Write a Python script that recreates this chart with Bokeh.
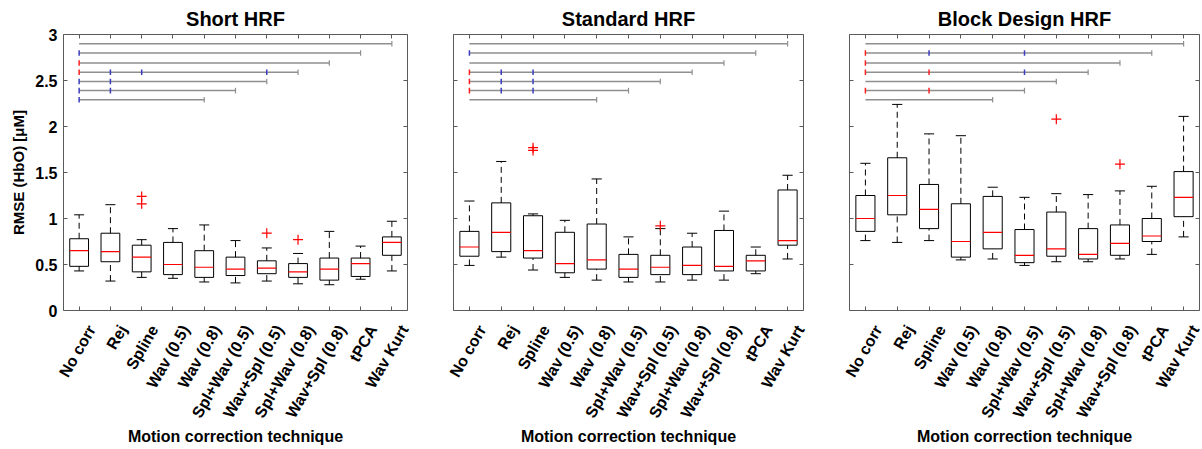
import math
from bokeh.plotting import figure
from bokeh.models import FixedTicker, LinearAxis, Range1d, CustomJSTickFormatter
from bokeh.layouts import row
from bokeh.embed import file_html
from bokeh.resources import INLINE

categories = ["No corr", "Rej", "Spline", "Wav (0.5)", "Wav (0.8)", "Spl+Wav (0.5)",
              "Wav+Spl (0.5)", "Spl+Wav (0.8)", "Wav+Spl (0.8)", "tPCA", "Wav Kurt"]
titles = ["Short HRF", "Standard HRF", "Block Design HRF"]
y_ticks = [0, 0.5, 1, 1.5, 2, 2.5, 3]

# ---- Short HRF
short_lo  = [0.43, 0.32, 0.36, 0.35, 0.31, 0.30, 0.32, 0.29, 0.28, 0.34, 0.43]
short_q1  = [0.48, 0.53, 0.42, 0.39, 0.36, 0.38, 0.40, 0.36, 0.33, 0.37, 0.60]
short_med = [0.65, 0.64, 0.58, 0.50, 0.47, 0.45, 0.46, 0.42, 0.45, 0.51, 0.74]
short_q3  = [0.78, 0.84, 0.71, 0.74, 0.65, 0.58, 0.54, 0.51, 0.57, 0.57, 0.80]
short_hi  = [1.04, 1.15, 0.77, 0.89, 0.93, 0.76, 0.68, 0.62, 0.86, 0.70, 0.97]
short_out_x = [3, 3, 7, 8]
short_out_y = [1.24, 1.16, 0.84, 0.77]

# ---- Standard HRF
std_lo  = [0.49, 0.58, 0.44, 0.36, 0.33, 0.31, 0.31, 0.33, 0.33, 0.40, 0.56]
std_q1  = [0.59, 0.64, 0.57, 0.41, 0.45, 0.36, 0.39, 0.39, 0.43, 0.43, 0.71]
std_med = [0.69, 0.85, 0.65, 0.51, 0.55, 0.45, 0.47, 0.49, 0.48, 0.54, 0.76]
std_q3  = [0.86, 1.17, 1.03, 0.85, 0.94, 0.61, 0.60, 0.69, 0.87, 0.60, 1.31]
std_hi  = [1.19, 1.62, 1.05, 0.98, 1.43, 0.80, 0.89, 0.84, 1.08, 0.69, 1.47]
std_out_x = [3, 3, 7]
std_out_y = [1.77, 1.74, 0.92]

# ---- Block Design HRF
blk_lo  = [0.76, 0.74, 0.76, 0.55, 0.56, 0.49, 0.53, 0.53, 0.56, 0.61, 0.80]
blk_q1  = [0.86, 1.04, 0.89, 0.58, 0.67, 0.52, 0.59, 0.56, 0.60, 0.75, 1.02]
blk_med = [1.00, 1.25, 1.10, 0.75, 0.85, 0.60, 0.67, 0.61, 0.73, 0.81, 1.23]
blk_q3  = [1.25, 1.66, 1.37, 1.16, 1.24, 0.88, 1.07, 0.89, 0.93, 1.00, 1.51]
blk_hi  = [1.60, 2.24, 1.92, 1.90, 1.34, 1.23, 1.27, 1.26, 1.30, 1.35, 2.11]
blk_out_x = [7, 9]
blk_out_y = [2.08, 1.59]

# ---- significance brackets (all start at "No corr")
bracket_y = [2.9, 2.8, 2.69, 2.59, 2.49, 2.39, 2.29]
bracket_end = [11, 10, 9, 8, 7, 6, 5]

short_red_row = [2, 3]
short_red_cat = [1, 1]
short_blue_row = [1, 3, 3, 3, 4, 4, 5, 5, 6]
short_blue_cat = [1, 2, 3, 7, 1, 2, 1, 2, 1]

std_red_row = [3, 4, 5]
std_red_cat = [1, 1, 1]
std_blue_row = [1, 3, 3, 4, 4, 5, 5]
std_blue_cat = [1, 2, 3, 2, 3, 2, 3]

blk_red_row = [1, 2, 3, 3, 5, 5]
blk_red_cat = [1, 1, 1, 3, 1, 3]
blk_blue_row = [1, 1, 3]
blk_blue_cat = [3, 6, 6]

FONT = "Liberation Sans"
FRAME_COL = "#5a5a5a"
BRACKET_COL = "#8f8f8f"
LABEL_SHIFT = 0.4   # rotated tick labels sit slightly right of their tick (MATLAB style)


def empty_fmt():
    return CustomJSTickFormatter(code="return ''")


def make_panel(idx, width, mb_left, mb_right, lo, q1, med, q3, hi, ox, oy,
               red_row, red_cat, blue_row, blue_cat, show_y):
    p = figure(width=width, height=449, x_range=Range1d(0.5, 11.5), y_range=Range1d(0, 3),
               output_backend="svg", toolbar_location=None,
               min_border_left=mb_left, min_border_right=mb_right,
               min_border_top=34, min_border_bottom=139)
    p.extra_x_ranges = {"lab": Range1d(0.5 - LABEL_SHIFT, 11.5 - LABEL_SHIFT)}
    p.title.text = titles[idx]
    p.title.align = "center"
    p.title.text_font = FONT
    p.title.text_font_size = "20px"
    p.title.text_font_style = "bold"
    p.title.text_color = "#000000"
    p.title.standoff = 9
    p.xgrid.visible = False
    p.ygrid.visible = False
    p.outline_line_color = FRAME_COL
    p.outline_line_width = 1
    p.background_fill_color = "white"
    p.border_fill_color = "white"

    # bottom axis: ticks only
    xa = p.xaxis[0]
    xa.ticker = FixedTicker(ticks=list(range(1, 12)))
    xa.formatter = empty_fmt()
    xa.major_label_standoff = 0
    xa.major_tick_in = 4
    xa.major_tick_out = 0
    xa.minor_tick_line_color = None
    xa.major_tick_line_color = FRAME_COL
    xa.axis_line_color = None

    # bottom label axis (category names, rotated)
    la = LinearAxis(x_range_name="lab", ticker=FixedTicker(ticks=list(range(1, 12))),
                    formatter=CustomJSTickFormatter(args=dict(labels=categories),
                                                    code="return labels[Math.round(tick)-1] || ''"),
                    major_tick_in=0, major_tick_out=0, major_tick_line_color=None,
                    minor_tick_line_color=None, axis_line_color=None)
    la.major_label_orientation = math.pi / 3
    la.major_label_text_font = FONT
    la.major_label_text_font_size = "16px"
    la.major_label_text_font_style = "bold"
    la.major_label_text_color = "#000000"
    la.major_label_standoff = 16
    la.axis_label = "Motion correction technique"
    la.axis_label_text_font = FONT
    la.axis_label_text_font_size = "16px"
    la.axis_label_text_font_style = "bold"
    la.axis_label_text_color = "#000000"
    la.axis_label_standoff = 0
    p.add_layout(la, "below")

    # left axis
    ya = p.yaxis[0]
    ya.ticker = FixedTicker(ticks=y_ticks)
    ya.major_tick_in = 4
    ya.major_tick_out = 0
    ya.minor_tick_line_color = None
    ya.major_tick_line_color = FRAME_COL
    ya.axis_line_color = None
    if show_y:
        ya.formatter = CustomJSTickFormatter(code="return String(Math.round(tick*10)/10)")
        ya.major_label_text_font = FONT
        ya.major_label_text_font_size = "16px"
        ya.major_label_text_font_style = "bold"
        ya.major_label_text_color = "#000000"
        ya.major_label_standoff = 6
        ya.axis_label = "RMSE (HbO) [μM]"
        ya.axis_label_text_font = FONT
        ya.axis_label_text_font_size = "15px"
        ya.axis_label_text_font_style = "bold"
        ya.axis_label_text_color = "#000000"
        ya.axis_label_standoff = 5
    else:
        ya.formatter = empty_fmt()
        ya.major_label_standoff = 0

    # right + top axes (ticks only)
    ra = LinearAxis(ticker=FixedTicker(ticks=y_ticks), formatter=empty_fmt(),
                    major_tick_in=4, major_tick_out=0, minor_tick_line_color=None,
                    major_tick_line_color=FRAME_COL, axis_line_color=None, major_label_standoff=0)
    p.add_layout(ra, "right")
    ta = LinearAxis(ticker=FixedTicker(ticks=list(range(1, 12))), formatter=empty_fmt(),
                    major_tick_in=4, major_tick_out=0, minor_tick_line_color=None,
                    major_tick_line_color=FRAME_COL, axis_line_color=None, major_label_standoff=0)
    p.add_layout(ta, "above")

    x = list(range(1, 12))
    # whiskers
    p.segment(x0=x, y0=q3, x1=x, y1=hi, line_color="black", line_width=1, line_dash="6 4")
    p.segment(x0=x, y0=lo, x1=x, y1=q1, line_color="black", line_width=1, line_dash="6 4")
    cap = 0.16
    p.segment(x0=[v - cap for v in x], y0=hi, x1=[v + cap for v in x], y1=hi,
              line_color="black", line_width=1)
    p.segment(x0=[v - cap for v in x], y0=lo, x1=[v + cap for v in x], y1=lo,
              line_color="black", line_width=1)
    hw = 0.3
    p.quad(left=[v - hw for v in x], right=[v + hw for v in x], bottom=q1, top=q3,
           fill_color=None, line_color="black", line_width=1)
    p.segment(x0=[v - hw for v in x], y0=med, x1=[v + hw for v in x], y1=med,
              line_color="#ff0000", line_width=1.2)
    p.scatter(ox, oy, marker="cross", size=10, line_color="#ff0000", line_width=1.2)

    # brackets
    n = len(bracket_y)
    p.segment(x0=[1] * n, y0=bracket_y, x1=bracket_end, y1=bracket_y,
              line_color=BRACKET_COL, line_width=1.5)
    d = 0.03
    p.segment(x0=bracket_end, y0=[v - d for v in bracket_y], x1=bracket_end,
              y1=[v + d for v in bracket_y], line_color=BRACKET_COL, line_width=1.2)
    ry = [bracket_y[r] for r in red_row]
    p.segment(x0=red_cat, y0=[v - d for v in ry], x1=red_cat, y1=[v + d for v in ry],
              line_color="#ff2020", line_width=1.5)
    by = [bracket_y[r] for r in blue_row]
    p.segment(x0=blue_cat, y0=[v - d for v in by], x1=blue_cat, y1=[v + d for v in by],
              line_color="#3c3cc0", line_width=1.5)
    return p


p1 = make_panel(0, 430, 63, 23, short_lo, short_q1, short_med, short_q3, short_hi,
                short_out_x, short_out_y, short_red_row, short_red_cat,
                short_blue_row, short_blue_cat, True)
p2 = make_panel(1, 396, 23, 23, std_lo, std_q1, std_med, std_q3, std_hi,
                std_out_x, std_out_y, std_red_row, std_red_cat,
                std_blue_row, std_blue_cat, False)
p3 = make_panel(2, 376, 23, 3, blk_lo, blk_q1, blk_med, blk_q3, blk_hi,
                blk_out_x, blk_out_y, blk_red_row, blk_red_cat,
                blk_blue_row, blk_blue_cat, False)

layout = row(p1, p2, p3)
open("out.html", "w").write(file_html(layout, INLINE))
